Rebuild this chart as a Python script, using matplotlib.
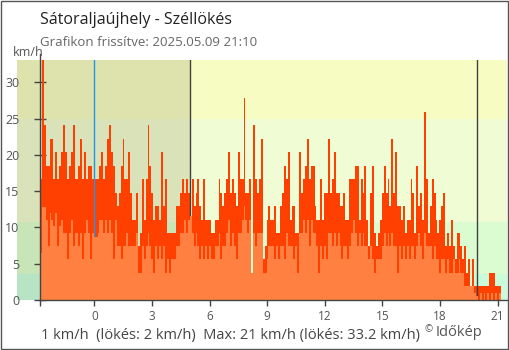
import numpy as np
import matplotlib
matplotlib.use("Agg")
import matplotlib.pyplot as plt
from matplotlib.patches import Rectangle

plt.rcParams['font.family'] = ['Open Sans', 'DejaVu Sans']

# Time axis: hours relative to midnight, 6-minute samples from 21:10 the day before
start_hour = -(2 + 50 / 60)
step_hours = 0.1
sunrise_hour = 4.98
sunset_hour = 19.93

# Wind gust (km/h)
gust_kmh = [
    16.7, 33.2, 24.1, 18.5, 18.5, 22.2, 22.2, 16.7, 20.4, 16.7,
    18.5, 20.4, 24.1, 20.4, 16.7, 18.5, 20.4, 24.1, 16.7, 16.7,
    18.5, 22.2, 16.7, 20.4, 16.7, 18.5, 18.5, 16.7, 16.7, 16.7,
    16.7, 18.5, 20.4, 16.7, 18.5, 22.2, 24.1, 20.4, 18.5, 14.8,
    13.0, 14.8, 18.5, 22.2, 16.7, 16.7, 20.4, 14.8, 11.1, 11.1,
    14.8, 7.4, 9.3, 16.7, 11.1, 16.7, 24.1, 18.5, 14.8, 11.1,
    13.0, 13.0, 11.1, 20.4, 13.0, 16.7, 9.3, 9.3, 9.3, 9.3,
    9.3, 13.0, 13.0, 14.8, 16.7, 14.8, 16.7, 14.8, 11.1, 16.7,
    13.0, 14.8, 16.7, 13.0, 11.1, 16.7, 11.1, 11.1, 11.1, 9.3,
    9.3, 11.1, 11.1, 16.7, 14.8, 13.0, 14.8, 16.7, 20.4, 14.8,
    16.7, 14.8, 13.0, 20.4, 16.7, 16.7, 27.8, 14.8, 14.8, 16.7,
    3.7, 24.1, 16.7, 14.8, 16.7, 22.2, 5.6, 7.4, 11.1, 13.0,
    11.1, 11.1, 13.0, 9.3, 9.3, 13.0, 14.8, 18.5, 16.7, 20.4,
    11.1, 13.0, 13.0, 9.3, 9.3, 20.4, 14.8, 16.7, 18.5, 22.2,
    16.7, 18.5, 18.5, 13.0, 11.1, 11.1, 16.7, 11.1, 14.8, 14.8,
    22.2, 14.8, 16.7, 20.4, 14.8, 14.8, 13.0, 13.0, 14.8, 11.1,
    11.1, 16.7, 16.7, 16.7, 18.5, 18.5, 11.1, 16.7, 14.8, 18.5,
    11.1, 7.4, 14.8, 18.5, 9.3, 7.4, 9.3, 11.1, 14.8, 18.5,
    14.8, 16.7, 13.0, 22.2, 14.8, 20.4, 13.0, 13.0, 11.1, 13.0,
    9.3, 11.1, 11.1, 16.7, 14.8, 9.3, 18.5, 13.0, 14.8, 11.1,
    25.9, 16.7, 9.3, 13.0, 16.7, 14.8, 11.1, 9.3, 11.1, 13.0,
    14.8, 7.4, 9.3, 7.4, 11.1, 7.4, 5.6, 9.3, 9.3, 7.4,
    5.6, 7.4, 3.7, 5.6, 1.9, 5.6, 1.9, 1.9, 1.9, 1.9,
    1.9, 1.9, 1.9, 1.9, 3.7, 3.7, 3.7, 1.9, 1.9, 1.9,
]

# Mean wind speed (km/h)
wind_kmh = [
    6.5, 12.8, 12.8, 11.1, 7.4, 12.0, 11.1, 10.2, 12.0, 7.4,
    10.2, 11.1, 9.3, 9.3, 5.6, 9.3, 11.1, 7.4, 9.3, 9.3,
    7.4, 9.3, 5.6, 9.3, 11.1, 9.3, 5.6, 9.3, 8.7, 8.7,
    9.3, 11.1, 11.1, 9.3, 11.1, 9.3, 11.1, 9.3, 5.6, 11.1,
    7.4, 7.4, 5.6, 7.4, 7.4, 9.3, 7.4, 7.4, 7.4, 7.4,
    9.3, 3.7, 3.7, 7.4, 5.6, 7.4, 9.3, 7.4, 5.6, 3.7,
    7.4, 5.6, 7.4, 5.6, 7.4, 3.7, 5.6, 3.7, 5.6, 5.6,
    5.6, 7.4, 7.4, 9.3, 9.3, 11.1, 9.3, 11.1, 11.6, 9.3,
    7.4, 9.3, 7.4, 5.6, 7.4, 5.6, 7.4, 5.6, 7.4, 5.6,
    5.6, 7.4, 7.4, 9.3, 5.6, 7.4, 7.4, 9.3, 11.1, 7.4,
    9.3, 7.4, 5.6, 9.3, 9.3, 11.1, 13.0, 11.1, 9.3, 11.1,
    3.7, 9.3, 7.4, 9.3, 9.3, 9.3, 3.7, 3.7, 5.6, 7.4,
    7.4, 7.4, 5.6, 7.4, 5.6, 7.4, 7.4, 5.6, 9.3, 7.4,
    7.4, 7.4, 5.6, 7.4, 3.7, 9.3, 9.3, 11.1, 9.3, 11.1,
    7.4, 11.1, 9.3, 9.3, 7.4, 3.7, 7.4, 5.6, 7.4, 5.6,
    9.3, 9.3, 7.4, 9.3, 7.4, 9.3, 7.4, 5.6, 7.4, 7.4,
    5.6, 7.4, 9.3, 11.1, 9.3, 7.4, 9.3, 7.4, 9.3, 7.4,
    7.4, 5.6, 7.4, 5.6, 3.7, 5.6, 5.6, 5.6, 7.4, 9.3,
    7.4, 9.3, 7.4, 9.3, 7.4, 7.4, 3.7, 7.4, 5.6, 7.4,
    5.6, 7.4, 5.6, 7.4, 7.4, 5.6, 7.4, 9.3, 7.4, 5.6,
    9.3, 7.4, 7.4, 7.4, 5.6, 7.4, 5.6, 5.6, 3.7, 5.6,
    5.6, 3.7, 5.6, 3.7, 3.7, 5.6, 3.7, 3.7, 5.6, 3.7,
    3.7, 1.9, 1.9, 1.9, 1.9, 1.9, 0.9, 0.5, 0.0, 0.9,
    0.0, 0.9, 0.0, 0.9, 0.0, 0.9, 0.0, 0.9, 0.0, 0.9,
]

# Background speed bands (km/h) for night and daytime
band_edges = [0.0, 3.6, 10.7, 25.0, 40.0]
night_colors = ['#b7e4c5', '#c8e5b8', '#d9e2b9', '#dee3ae']
day_colors = ['#c8fcda', '#dbfcd1', '#f0fdd4', '#f7fcc3']

x_ticks = [0, 3, 6, 9, 12, 15, 18, 21]
y_ticks = [0, 5, 10, 15, 20, 25, 30]

title = 'Sátoraljaújhely - Széllökés'
subtitle = 'Grafikon frissítve: 2025.05.09 21:10'
footer = '1 km/h  (lökés: 2 km/h)  Max: 21 km/h (lökés: 33.2 km/h)'
credit_mark = '©'
credit_name = 'Időkép'

W, H = 510, 350
fig = plt.figure(figsize=(W / 100, H / 100), dpi=100)
ax = fig.add_axes([17 / W, 50 / H, 490 / W, 240 / H])

x_left, x_right = -4.03, 21.49
y_top = 33.1
ax.set_xlim(x_left, x_right)
ax.set_ylim(0, y_top)

for lo, hi, nc, dc in zip(band_edges[:-1], band_edges[1:], night_colors, day_colors):
    ax.add_patch(Rectangle((x_left, lo), sunrise_hour - x_left, hi - lo,
                           facecolor=nc, edgecolor='none', zorder=0))
    ax.add_patch(Rectangle((sunrise_hour, lo), x_right - sunrise_hour, hi - lo,
                           facecolor=dc, edgecolor='none', zorder=0))

times = start_hour + step_hours * np.arange(len(gust_kmh))
ax.bar(times, gust_kmh, width=step_hours, align='edge', color='#ff4000',
       linewidth=0, antialiased=False, zorder=2)

ax.axvline(0, color='#2196e8', lw=1, zorder=3)
ax.axvline(sunrise_hour, color='#404040', lw=1, zorder=3)
ax.axvline(sunset_hour, color='#404040', lw=1, zorder=3)

ax.bar(times, wind_kmh, width=step_hours, align='edge', color='#ff8040',
       linewidth=0, antialiased=False, zorder=4)

for side in ('top', 'right'):
    ax.spines[side].set_visible(False)
ax.spines['left'].set_position(('data', start_hour))
ax.spines['left'].set_bounds(0, 33.9)
ax.spines['left'].set_color('#444444')
ax.spines['bottom'].set_color('#444444')
ax.spines['bottom'].set_bounds(start_hour, x_right)
for side in ('left', 'bottom'):
    ax.spines[side].set_zorder(6)
    ax.spines[side].set_linewidth(1)

ax.set_yticks(y_ticks)
ax.set_yticklabels([str(v) for v in y_ticks])
ax.tick_params(axis='y', direction='inout', length=9.2, width=1, colors='#444444',
               labelcolor='#555555', labelsize=9, pad=10.2)

ax.set_xticks([start_hour] + x_ticks)
ax.set_xticklabels([''] + [str(v) for v in x_ticks])
ax.tick_params(axis='x', direction='out', length=4.5, width=1, colors='#444444',
               labelcolor='#555555', labelsize=8.5, pad=3)
ax.xaxis.get_major_ticks()[1].tick1line.set_color('#2196e8')

fig.text(40 / W, 1 - 24.5 / H, title, fontsize=11.5, color='#222222', va='baseline')
fig.text(40 / W, 1 - 45.5 / H, subtitle, fontsize=9.5, color='#666666', va='baseline')
fig.text(12.5 / W, 1 - 56 / H, 'km/h', fontsize=9, color='#555555', va='baseline')
fig.text(41 / W, 1 - 339.5 / H, footer, fontsize=10.5, color='#444444', va='baseline')
fig.text(425 / W, 1 - 332 / H, credit_mark, fontsize=7, color='#555555', va='baseline')
fig.text(436 / W, 1 - 336 / H, credit_name, fontsize=10.5, color='#555555', va='baseline')

fig.patches.append(Rectangle((0.5 / W, 1.5 / H), 508 / W, 348 / H, transform=fig.transFigure,
                             fill=False, edgecolor='#555555', lw=1))

fig.savefig('out.png', dpi=100)
